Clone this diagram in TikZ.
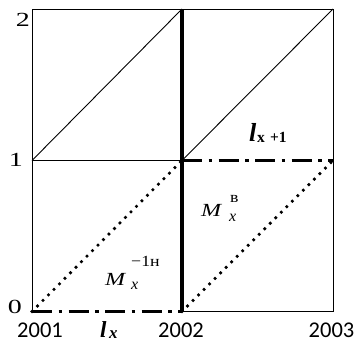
\documentclass[tikz,border=0pt]{standalone}
\usepackage{fontspec}
\setmainfont{Liberation Serif}
\newfontfamily\yearfont{Carlito}
\newcommand\hwide[2][1.3]{\scalebox{#1}[1]{#2}}
\begin{document}
\begin{tikzpicture}[x=1pt,y=-1pt,
  thinline/.style={line width=0.9pt, black},
  thickline/.style={line width=4pt, black},
  dashdotline/.style={line width=3pt, black, dash pattern=on 20pt off 6.5pt on 3.5pt off 6.5pt},
  dotline/.style={line width=3.6pt, black, line cap=round, dash pattern=on 0pt off 7.8pt},
  axislabel/.style={font=\fontsize{20}{20}\selectfont, inner sep=0pt},
  yearlabel/.style={font=\yearfont\fontsize{22.5}{23}\selectfont, inner sep=0pt},
  mbig/.style={font=\fontsize{18.5}{18}\selectfont\itshape, inner sep=0pt, anchor=base west},
  msup/.style={font=\fontsize{15.5}{15}\selectfont, inner sep=0pt, anchor=base west},
  msub/.style={font=\fontsize{16}{15}\selectfont\itshape, inner sep=0pt, anchor=base west},
  lbig/.style={font=\fontsize{23}{23}\selectfont\bfseries\itshape, inner sep=0pt, anchor=base west},
  lsub/.style={font=\fontsize{15.5}{16}\selectfont\bfseries, inner sep=0pt, anchor=base west}
]
\useasboundingbox (0,0) rectangle (358,347);
\coordinate (A0) at (32,311.5);
\coordinate (A1) at (32,160.5);
\coordinate (A2) at (32,9);
\coordinate (B0) at (182,311.5);
\coordinate (B1) at (182,160.5);
\coordinate (B2) at (182,9);
\coordinate (C0) at (333,311.5);
\coordinate (C1) at (333,160.5);
\coordinate (C2) at (333,9);
% thin frame and diagonals
\draw[thinline] (A0) -- (A2) -- (C2) -- (C0) -- (B0);
\draw[thinline] (A1) -- (B1);
\draw[thinline] (A1) -- (B2);
\draw[thinline] (B1) -- (C2);
% dotted diagonals
\draw[dotline] (A0) -- (B1);
\draw[dotline] (B0) -- (C1);
% dash-dot lines
\draw[dashdotline] (A0) -- (B0);
\draw[dashdotline] (B1) -- (C1);
% thick vertical
\draw[thickline] (B0) -- (B2);
% axis labels
\node[axislabel] (y2) at (23,19.5) {\hwide[1.4]{2}};
\node[axislabel] (y1) at (16,160) {\hwide[1.4]{1}};
\node[axislabel] (y0) at (15,307) {\hwide[1.4]{0}};
\node[yearlabel] (t1) at (40,330) {2001};
\node[yearlabel] (t2) at (181,330) {2002};
\node[yearlabel] (t3) at (331.5,330) {2003};
% l labels
\node[lbig] (lx) at (100,337) {l};
\node[lsub, font=\fontsize{17}{17}\selectfont\bfseries\itshape] (lxs) at (109,338) {x};
\node[lbig, font=\fontsize{26}{26}\selectfont\bfseries\itshape] (l1) at (249,142) {l};
\node[lsub] (l1s) at (257,143) {x\,\,+1};
% M labels
\node[mbig] (m1) at (105,285) {\hwide{M}};
\node[msup] (m1sup) at (131,266) {\hwide[1.15]{−1н}};
\node[msub] (m1sub) at (131,289) {x};
\node[mbig] (m2) at (201,216) {\hwide{M}};
\node[msup] (m2sup) at (230,203) {\hwide[1.15]{в}};
\node[msub] (m2sub) at (229,221) {x};
\end{tikzpicture}
\end{document}
